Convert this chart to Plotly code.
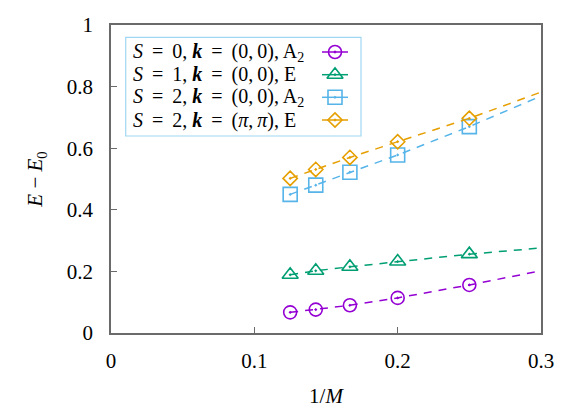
import plotly.graph_objects as go

# ---- data ----
M_values = [8, 7, 6, 5, 4]
inv_M = [1.0 / m for m in M_values]
fit_x_end = 0.3

EQ = " \u2009=\u2009 "
labels = [
    "<i>S</i>" + EQ + "0, <b><i>k</i></b>" + EQ + "(0,\u20090), A<sub>2</sub>",
    "<i>S</i>" + EQ + "1, <b><i>k</i></b>" + EQ + "(0,\u20090), E",
    "<i>S</i>" + EQ + "2, <b><i>k</i></b>" + EQ + "(0,\u20090), A<sub>2</sub>",
    "<i>S</i>" + EQ + "2, <b><i>k</i></b>" + EQ + "(<i>π</i>,\u2009<i>π</i>), E",
]
gap_S0_A2 = [0.067, 0.076, 0.090, 0.114, 0.156]
gap_S1_E = [0.189, 0.202, 0.215, 0.232, 0.256]
gap_S2_A2 = [0.450, 0.480, 0.522, 0.578, 0.670]
gap_S2_E = [0.502, 0.531, 0.570, 0.621, 0.697]
fit_end = [0.202, 0.276, 0.769, 0.782]

series = [gap_S0_A2, gap_S1_E, gap_S2_A2, gap_S2_E]
colors = ["#9400D3", "#009E73", "#56B4E9", "#E69F00"]
symbols = ["circle-open-dot", "triangle-up-open-dot", "square-open-dot", "diamond-open-dot"]
sizes = [13, 14, 14, 11]

x_ticks = [0, 0.1, 0.2, 0.3]
y_ticks = [0, 0.2, 0.4, 0.6, 0.8, 1]

FONT = "Liberation Serif"
FRAME = "#6a6a6a"

# plot area in pixels
L, R, T, B = 111, 541, 25, 333
W, H = 584, 409

fig = go.Figure()

for vals, end, col, sym, sz in zip(series, fit_end, colors, symbols, sizes):
    fig.add_trace(go.Scatter(
        x=inv_M + [fit_x_end], y=vals + [end], mode="lines",
        line=dict(color=col, width=1.5, dash="8px,7px"),
        showlegend=False, hoverinfo="skip"))
    fig.add_trace(go.Scatter(
        x=inv_M, y=vals, mode="markers",
        marker=dict(symbol=sym, size=sz, color=col, line=dict(color=col, width=1.6)),
        showlegend=False))

# ---- manual legend (symbols on the right, like gnuplot) ----
row_y = [52, 74.7, 97.3, 120]
text_x = 131
sample_x0, sample_x1, sample_xm = 322, 348, 335
for lab, ry, col, sym, sz in zip(labels, row_y, colors, symbols, sizes):
    fig.add_trace(go.Scatter(
        x=[sample_x0, sample_x1], y=[ry, ry], mode="lines",
        line=dict(color=col, width=1.5), xaxis="x2", yaxis="y2",
        showlegend=False, hoverinfo="skip"))
    fig.add_trace(go.Scatter(
        x=[sample_xm], y=[ry], mode="markers",
        marker=dict(symbol=sym, size=sz, color=col, line=dict(color=col, width=1.6)),
        xaxis="x2", yaxis="y2", showlegend=False, hoverinfo="skip"))
    fig.add_annotation(x=text_x, y=ry, xref="x2", yref="y2", text=lab,
                       showarrow=False, xanchor="left", yanchor="middle",
                       font=dict(family=FONT, size=20, color="black"))

fig.add_shape(type="rect", xref="x2", yref="y2", x0=125.7, x1=361, y0=37.3, y1=136,
              line=dict(color="#9fd7f2", width=1.2), fillcolor="rgba(0,0,0,0)")

fig.update_layout(
    width=W, height=H,
    margin=dict(l=L, r=W - R, t=T, b=H - B, pad=0),
    paper_bgcolor="white", plot_bgcolor="white",
    font=dict(family=FONT, size=21, color="black"),
    xaxis=dict(range=[0, 0.3], tickvals=x_ticks, ticktext=[str(v) for v in x_ticks],
               ticks="inside", ticklen=6, tickcolor=FRAME, tickwidth=1.2,
               showline=True, linecolor=FRAME, linewidth=1.5, mirror=True,
               showgrid=False, zeroline=False, ticklabelstandoff=8, automargin=False,
               tickfont=dict(family=FONT, size=21),
               title=dict(text="1/<i>M</i>", standoff=16, font=dict(family=FONT, size=21))),
    yaxis=dict(range=[0, 1], tickvals=y_ticks, ticktext=[str(v) for v in y_ticks],
               ticks="inside", ticklen=6, tickcolor=FRAME, tickwidth=1.2,
               showline=True, linecolor=FRAME, linewidth=1.5, mirror=True,
               showgrid=False, zeroline=False, ticklabelstandoff=12, automargin=False,
               tickfont=dict(family=FONT, size=21),
               title=dict(text="<i>E</i> − <i>E</i><sub>0</sub>", standoff=18,
                          font=dict(family=FONT, size=21))),
    xaxis2=dict(range=[L, R], overlaying="x", visible=False, fixedrange=True),
    yaxis2=dict(range=[B, T], overlaying="y", visible=False, fixedrange=True),
)

fig.write_html("out.html")
